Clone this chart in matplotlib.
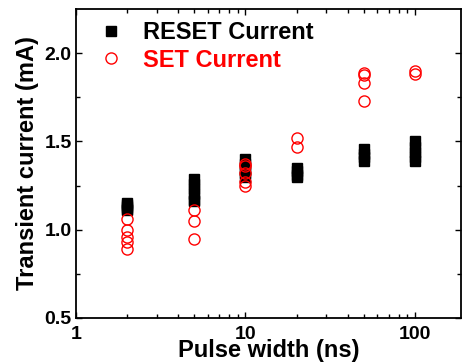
import matplotlib
matplotlib.use('Agg')
import matplotlib.pyplot as plt
from matplotlib.ticker import FixedLocator, NullFormatter, LogLocator

plt.rcParams['font.family'] = ['Liberation Sans', 'DejaVu Sans']
plt.rcParams['font.weight'] = 'bold'

# pulse widths (ns) and measured currents (mA)
reset_x = [2]*5 + [5]*6 + [10]*5 + [20]*4 + [50]*4 + [100]*5
reset_y = [1.15, 1.14, 1.13, 1.12, 1.11,
           1.29, 1.26, 1.23, 1.20, 1.17, 1.16,
           1.40, 1.37, 1.34, 1.32, 1.30,
           1.35, 1.33, 1.31, 1.30,
           1.46, 1.43, 1.41, 1.39,
           1.50, 1.47, 1.44, 1.41, 1.39]

set_x = [2]*5 + [5]*3 + [10]*5 + [20]*2 + [50]*4 + [100]*2
set_y = [1.06, 1.00, 0.96, 0.93, 0.89,
         1.11, 1.05, 0.95,
         1.37, 1.36, 1.32, 1.27, 1.25,
         1.52, 1.47,
         1.89, 1.875, 1.83, 1.73,
         1.90, 1.885]

fig = plt.figure(figsize=(4.62, 3.63), dpi=100)
ax = fig.add_axes([0.1645, 0.124, 0.8335, 0.851])

ax.plot(reset_x, reset_y, 's', color='black', markersize=7.5, label='RESET Current')
ax.plot(set_x, set_y, 'o', markerfacecolor='none', markeredgecolor='red',
        markeredgewidth=1.0, markersize=8, label='SET Current')

ax.set_xscale('log')
ax.set_xlim(1, 187)
ax.set_ylim(0.5, 2.25)
ax.set_xticks([1, 10, 100])
ax.set_xticklabels(['1', '10', '100'])
ax.xaxis.set_minor_locator(LogLocator(base=10, subs=range(2, 10)))
ax.xaxis.set_minor_formatter(NullFormatter())
ax.set_yticks([0.5, 1.0, 1.5, 2.0])
ax.yaxis.set_minor_locator(FixedLocator([0.75, 1.25, 1.75]))

for s in ax.spines.values():
    s.set_linewidth(1.3)
ax.tick_params(which='both', direction='in', top=True, right=True, width=1.0)
ax.tick_params(which='major', length=4, labelsize=14)
ax.tick_params(which='minor', length=3)
ax.tick_params(axis='x', pad=6)
ax.tick_params(axis='y', pad=3)

ax.set_xlabel('Pulse width (ns)', fontsize=17, fontweight='bold', labelpad=-3)
ax.set_ylabel('Transient current (mA)', fontsize=17, fontweight='bold', labelpad=4)

leg = ax.legend(loc='upper left', bbox_to_anchor=(0.03, 1.0), frameon=False,
                fontsize=17, handletextpad=0.85, labelspacing=0.2,
                borderaxespad=0.1, handlelength=1.0)
leg.get_texts()[1].set_color('red')

fig.savefig('out.png', dpi=100)
